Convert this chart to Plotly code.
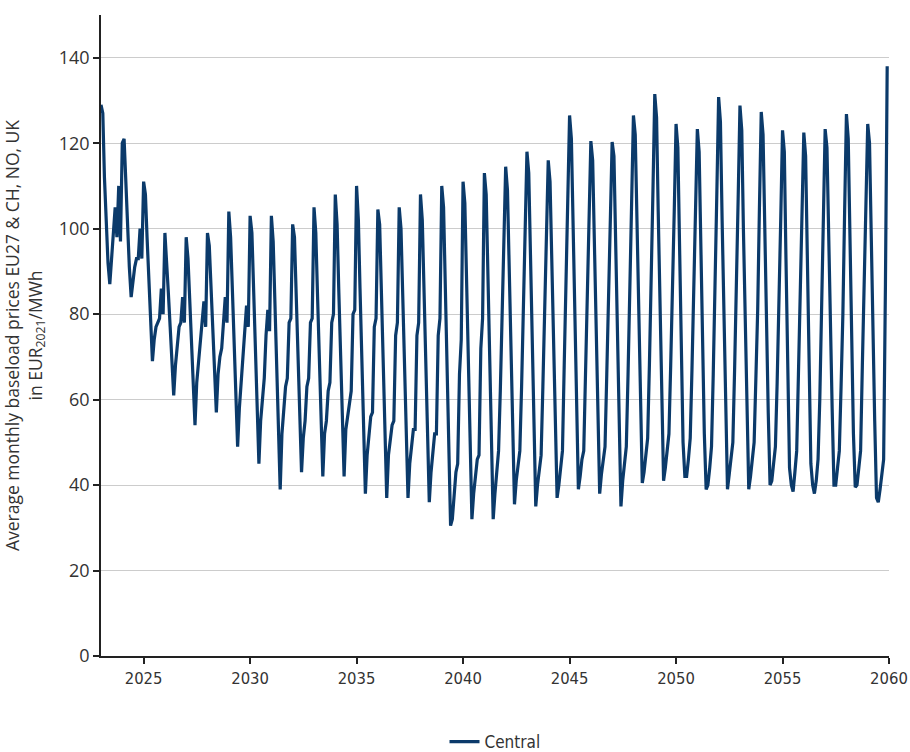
import plotly.graph_objects as go
import pandas as pd

# Monthly values (Jan..Dec), EUR2021/MWh
y2023 = [129, 127, 112, 100, 92, 87, 93, 99, 105, 98, 110, 97]
y2024 = [120, 121, 110, 100, 91, 84, 88, 91, 93, 93, 100, 93]
y2025 = [111, 108, 98, 88, 78, 69, 74, 77, 78, 79, 86, 80]
y2026 = [99, 93, 85, 77, 69, 61, 68, 73, 77, 78, 84, 78]
y2027 = [98, 93, 83, 73, 63, 54, 64, 69, 73, 78, 83, 77]
y2028 = [99, 96, 86, 76, 66, 57, 66, 70, 72, 77, 84, 78]
y2029 = [104, 98, 86, 74, 61, 49, 58, 64, 71, 75, 82, 77]
y2030 = [103, 99, 85, 72, 58, 45, 55, 61, 65, 75, 81, 76]
y2031 = [103, 97, 82, 68, 53, 39, 52, 58, 63, 65, 78, 79]
y2032 = [101, 98, 84, 70, 56, 43, 51, 55, 63, 65, 78, 79]
y2033 = [105, 99, 85, 70, 56, 42, 52, 55, 62, 64, 78, 80]
y2034 = [108, 101, 86, 71, 56, 42, 53, 56, 60, 62, 80, 81]
y2035 = [110, 102, 86, 70, 54, 38, 47, 51, 56, 57, 77, 79]
y2036 = [104.5, 101, 85, 69, 53, 37, 47, 51, 54, 55, 75, 78]
y2037 = [105, 100, 84, 68, 52, 37, 45, 50, 53, 53, 75, 78]
y2038 = [108, 102, 86, 69, 52, 36, 43, 48, 52, 52, 75, 79]
y2039 = [110, 105, 87, 68, 49, 30.5, 32, 37, 43, 45, 66, 74]
y2040 = [111, 106, 87, 69, 50, 32, 38, 42, 46, 47, 72, 79]
y2041 = [113, 108, 89, 70, 51, 32, 38, 44, 48, 62, 78, 96]
y2042 = [114.5, 109, 90, 72, 54, 35.5, 41, 45, 48, 63, 80, 99]
y2043 = [118, 113, 93, 73, 54, 35, 40, 44, 47, 63, 80, 98]
y2044 = [116, 111, 92, 74, 55, 37, 40, 45, 48, 68, 88, 107]
y2045 = [126.5, 121, 100, 80, 59, 39, 42, 46, 48, 66, 84, 102]
y2046 = [120.5, 116, 96, 77, 57, 38, 42.5, 46, 49, 66, 84, 102]
y2047 = [120.3, 117, 96, 75, 55, 35, 41, 45, 49, 66, 84, 105]
y2048 = [126.5, 122, 101, 81, 61, 40.5, 43, 47, 51, 68, 86, 109]
y2049 = [131.5, 126, 104, 83, 62, 41, 44, 48, 52, 68, 84, 104]
y2050 = [124.5, 119, 97, 74, 50, 42, 42, 46, 51, 67, 84, 104]
y2051 = [123.3, 118, 96, 74, 52, 39, 40, 44, 49, 66, 84, 108]
y2052 = [130.8, 125, 102, 79, 56, 39, 42.5, 46, 50, 67, 84, 107]
y2053 = [128.8, 123, 100, 77, 55, 39, 42, 46, 50, 65, 81, 105]
y2054 = [127.3, 122, 100, 78, 57, 40, 41, 45, 49, 64, 80, 102]
y2055 = [123, 118, 93, 68, 44, 40, 38.5, 43, 48, 66, 84, 104]
y2056 = [122.5, 117, 93, 69, 45, 40, 38, 41, 46, 60, 79, 102]
y2057 = [123.3, 119, 98, 78, 58, 40, 40, 44, 48, 63, 80, 104]
y2058 = [126.8, 121, 98, 75, 52, 39.5, 40, 44, 48, 68, 87, 106]
y2059 = [124.5, 120, 98, 76, 55, 37, 36, 39, 42, 46, 87, 138]

yearly = [y2023, y2024, y2025, y2026, y2027, y2028, y2029, y2030, y2031, y2032,
          y2033, y2034, y2035, y2036, y2037, y2038, y2039, y2040, y2041, y2042,
          y2043, y2044, y2045, y2046, y2047, y2048, y2049, y2050, y2051, y2052,
          y2053, y2054, y2055, y2056, y2057, y2058, y2059]
central = [v for yr in yearly for v in yr]
months = pd.date_range("2023-01-01", periods=len(central), freq="MS")

x_tick_years = [2025, 2030, 2035, 2040, 2045, 2050, 2055, 2060]
y_ticks = [0, 20, 40, 60, 80, 100, 120, 140]

NARROW = "Liberation Sans Narrow, DejaVu Sans Condensed, sans-serif"

fig = go.Figure()
fig.add_trace(go.Scatter(
    x=months, y=central, mode="lines", name="Central",
    line=dict(color="#0b3a6a", width=3.2),
))

fig.update_layout(
    width=910, height=752,
    margin=dict(l=101, r=21, t=15, b=96),
    plot_bgcolor="white", paper_bgcolor="white",
    showlegend=True,
    legend=dict(orientation="h", x=0.5, xanchor="center",
                yref="container", y=0.0133, yanchor="middle",
                font=dict(family=NARROW, size=17, color="#333333")),
    font=dict(family="Open Sans, sans-serif", color="#333333"),
)

fig.update_xaxes(
    type="date",
    range=["2023-01-01", "2060-01-01"],
    tickvals=[f"{y}-01-01" for y in x_tick_years],
    ticktext=[str(y) for y in x_tick_years],
    ticks="outside", ticklen=6, tickwidth=1.5, tickcolor="#222222",
    showline=True, linecolor="#222222", linewidth=1.5,
    showgrid=False, zeroline=False, automargin=False,
    tickfont=dict(family=NARROW, size=16.5, color="#333333"),
)

fig.update_yaxes(
    range=[0, 150],
    tickvals=y_ticks,
    ticks="outside", ticklen=6, tickwidth=1.5, tickcolor="#222222",
    showline=True, linecolor="#222222", linewidth=1.5,
    showgrid=True, gridcolor="#cccccc", gridwidth=1.2,
    zeroline=False, automargin=False,
    tickfont=dict(family="Open Sans, sans-serif", size=18, color="#333333"),
    title=dict(
        text="Average monthly baseload prices EU27 & CH, NO, UK<br>in EUR<sub>2021</sub>/MWh",
        font=dict(family="Open Sans, sans-serif", size=17.5, color="#333333"),
        standoff=12,
    ),
)

# remove the default page margin and scrollbars so the 910x752 figure fills the window exactly
fig.write_html(
    "out.html",
    config={"displayModeBar": False},
    post_script="document.body.style.margin='0';document.body.style.overflow='hidden';",
)
